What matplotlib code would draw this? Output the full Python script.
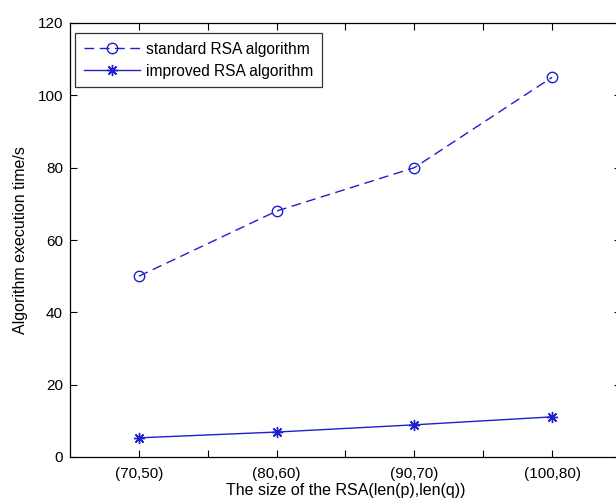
import matplotlib
matplotlib.use("Agg")
import matplotlib.pyplot as plt

categories = ["(70,50)", "(80,60)", "(90,70)", "(100,80)"]
standard = [50, 68, 80, 105]
improved = [5.3, 6.9, 8.9, 11.1]
yticks = [0, 20, 40, 60, 80, 100, 120]

plt.rcParams['font.family'] = ['Liberation Sans', 'DejaVu Sans']
W, H = 616, 501
fig = plt.figure(figsize=(W / 100, H / 100), dpi=100)
ax = fig.add_axes([70 / W, (H - 457) / H, (621 - 70) / W, (457 - 23) / H])

x = list(range(1, len(categories) + 1))
col = '#1f1fcf'
ax.plot(x, standard, linestyle=(0, (7, 4)), color=col, lw=1.0, marker='o',
        markersize=7.5, markerfacecolor='none', markeredgecolor=col,
        markeredgewidth=1.0, label='standard RSA algorithm')
ax.plot(x, improved, linestyle='-', color=col, lw=1.0, marker=(8, 2, 0),
        markersize=8, markerfacecolor=col, markeredgecolor=col,
        markeredgewidth=1.0, label='improved RSA algorithm')

ax.set_xlim(0.5, 4.5)
ax.set_ylim(0, 120)
ax.set_xticks([1, 1.5, 2, 2.5, 3, 3.5, 4])
ax.set_xticklabels([categories[0], '', categories[1], '', categories[2], '', categories[3]])
ax.set_yticks(yticks)
ax.tick_params(direction='in', top=True, right=True, length=5, width=0.8,
               labelsize=11, colors='black')
ax.tick_params(axis='x', pad=7)
ax.tick_params(axis='y', pad=5)
for s in ax.spines.values():
    s.set_linewidth(0.9)

ax.set_xlabel('The size of the RSA(len(p),len(q))', fontsize=11.5, labelpad=2)
ax.set_ylabel('Algorithm execution time/s', fontsize=11.5, labelpad=7)

leg = ax.legend(loc='upper left', bbox_to_anchor=(5 / 551, 1 - 10 / 434),
                fontsize=11.2, frameon=True, fancybox=False, edgecolor='black',
                handlelength=3.6, handletextpad=0.4, borderpad=0.55,
                labelspacing=0.45, borderaxespad=0)
leg.get_frame().set_linewidth(0.9)

fig.savefig('out.png', dpi=100)
